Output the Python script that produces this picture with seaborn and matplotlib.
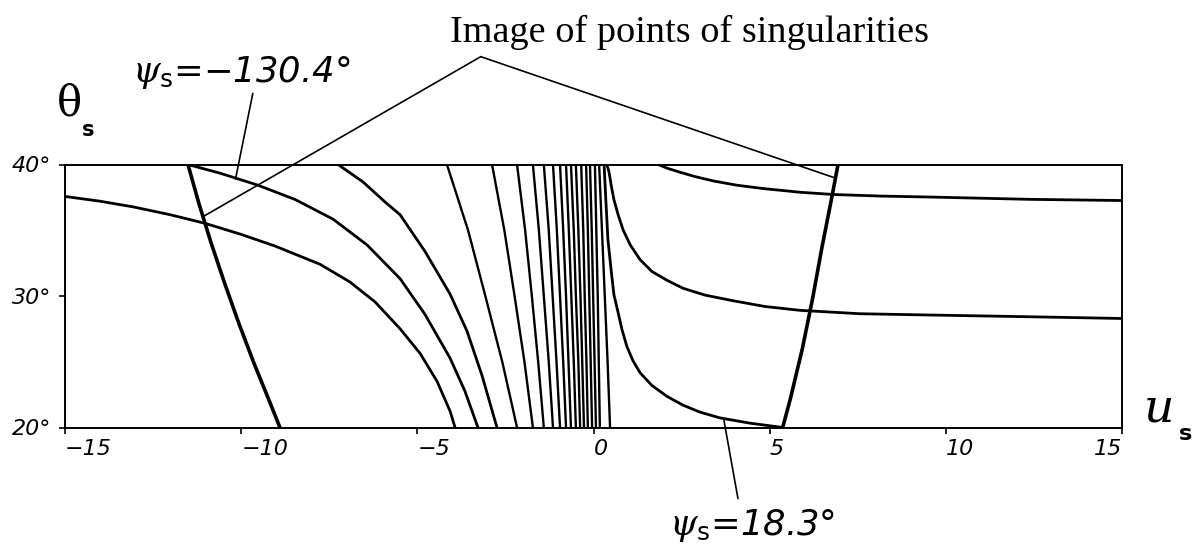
import matplotlib
matplotlib.use("Agg")
import matplotlib.pyplot as plt
import numpy as np
import pandas as pd
import seaborn as sns

# ---------------------------------------------------------------
# Streamlines psi_s = const in the (u_s, theta_s) plane, theta in degrees
# ---------------------------------------------------------------
# outer arc entering through the left edge
ARC_B_U = [-15.0, -14.01, -13.07, -12.03, -11.03, -10.03, -9.04, -7.76, -6.91,
           -6.20, -5.49, -4.92, -4.44, -4.07, -3.93]
ARC_B_TH = [37.57, 37.21, 36.78, 36.19, 35.53, 34.71, 33.80, 32.41, 31.06,
            29.55, 27.51, 25.63, 23.51, 21.24, 20.0]

# arc psi_s = -130.4 deg, leaving the upper-left corner of the domain
ARC_A_U = [-11.51, -10.60, -9.55, -8.47, -7.39, -6.43, -5.49, -4.78, -4.07, -3.65, -3.28]
ARC_A_TH = [40.0, 39.34, 38.45, 37.34, 35.84, 33.89, 31.32, 28.59, 25.27, 22.77, 20.0]

# next arc from the top edge
ARC_C_U = [-7.25, -6.54, -5.92, -5.49, -4.78, -4.07, -3.59, -3.16, -2.74]
ARC_C_TH = [40.0, 38.67, 37.16, 36.18, 33.38, 30.14, 27.33, 23.92, 20.0]

# fan of nearly vertical streamlines around u_s = 0 (u_s read at theta = 40, 35, 30, 25, 20)
FAN_TH = [40, 35, 30, 25, 20]
FAN_U40 = [-4.16, -2.88, -2.17, -1.72, -1.41, -1.15, -0.95, -0.78, -0.64, -0.50, -0.35, -0.21, -0.10, 0.04, 0.16]
FAN_U35 = [-3.56, -2.53, -1.94, -1.55, -1.27, -1.04, -0.86, -0.70, -0.56, -0.43, -0.29, -0.16, -0.05, 0.08, 0.24]
FAN_U30 = [-3.07, -2.24, -1.75, -1.41, -1.16, -0.95, -0.78, -0.63, -0.50, -0.37, -0.25, -0.12, -0.01, 0.12, 0.32]
FAN_U25 = [-2.59, -1.96, -1.57, -1.27, -1.05, -0.86, -0.71, -0.56, -0.43, -0.32, -0.20, -0.08, 0.03, 0.15, 0.40]
FAN_U20 = [-2.17, -1.72, -1.41, -1.15, -0.95, -0.78, -0.64, -0.50, -0.38, -0.27, -0.16, -0.04, 0.07, 0.18, 0.47]

# right family: streamlines turning towards +u_s
HYP_D_U = [1.83, 2.11, 2.46, 2.88, 3.40, 4.08, 4.82, 5.86, 6.80, 8.13, 9.64, 12.39, 15.0]
HYP_D_TH = [40.0, 39.70, 39.41, 39.08, 38.75, 38.42, 38.17, 37.89, 37.72, 37.60, 37.52, 37.35, 37.26]

HYP_E_U = [0.38, 0.44, 0.50, 0.58, 0.70, 0.84, 1.04, 1.32, 1.66, 2.09, 2.54, 3.16,
           3.96, 4.87, 5.86, 7.57, 9.64, 12.4, 15.0]
HYP_E_TH = [40.0, 39.44, 38.45, 37.32, 36.17, 35.03, 33.90, 32.77, 31.86, 31.19, 30.59, 30.07,
            29.64, 29.20, 28.91, 28.65, 28.55, 28.42, 28.29]

# psi_s = 18.3 deg
HYP_F_U = [0.30, 0.35, 0.41, 0.50, 0.58, 0.70, 0.81, 0.95, 1.12, 1.32, 1.66, 2.09,
           2.54, 3.02, 3.59, 4.44, 5.37]
HYP_F_TH = [40.0, 37.31, 34.27, 31.98, 30.09, 28.72, 27.43, 26.14, 25.08, 24.17, 23.19, 22.36,
            21.70, 21.17, 20.73, 20.33, 20.0]

# images of the singular points (domain boundaries)
BND_L_U = [-11.51, -11.20, -10.85, -10.47, -10.07, -9.64, -9.18, -8.90]
BND_L_TH = [40.0, 37.04, 34.01, 30.98, 27.95, 24.91, 21.88, 20.0]

BND_R_U = [6.94, 6.76, 6.48, 6.22, 5.93, 5.59, 5.37]
BND_R_TH = [40.0, 37.45, 33.64, 29.83, 26.02, 22.21, 20.0]

X_TICKS = [-15, -10, -5, 0, 5, 10, 15]
X_LABELS = ["\u221215", "\u221210", "\u22125", "0", "5", "10", "15"]
Y_TICKS = [20, 30, 40]
Y_LABELS = ["20\u00b0", "30\u00b0", "40\u00b0"]

# ---------------------------------------------------------------
# assemble long-form tables
# ---------------------------------------------------------------
def frame(name, us, ths):
    return pd.DataFrame({"u": us, "theta": ths, "line": name})

arcs = pd.concat([
    frame("B", ARC_B_U, ARC_B_TH),
    frame("A", ARC_A_U, ARC_A_TH),
    frame("C", ARC_C_U, ARC_C_TH),
    frame("D", HYP_D_U, HYP_D_TH),
    frame("E", HYP_E_U, HYP_E_TH),
    frame("F", HYP_F_U, HYP_F_TH),
], ignore_index=True)

fan_cols = [FAN_U40, FAN_U35, FAN_U30, FAN_U25, FAN_U20]
fan = pd.concat([
    frame(f"fan{i}", [col[i] for col in fan_cols], FAN_TH)
    for i in range(len(FAN_U40))
], ignore_index=True)

bounds = pd.concat([
    frame("L", BND_L_U, BND_L_TH),
    frame("R", BND_R_U, BND_R_TH),
], ignore_index=True)

# ---------------------------------------------------------------
# figure
# ---------------------------------------------------------------
sns.set_theme(style="ticks")
plt.rcParams["font.family"] = ["DejaVu Sans"]
plt.rcParams["text.color"] = "black"
plt.rcParams["xtick.color"] = "black"
plt.rcParams["ytick.color"] = "black"
plt.rcParams["xtick.labelcolor"] = "black"
plt.rcParams["ytick.labelcolor"] = "black"
plt.rcParams["mathtext.fontset"] = "dejavuserif"
plt.rcParams["lines.solid_capstyle"] = "butt"

W, H = 1198, 555
fig = plt.figure(figsize=(W / 100, H / 100), dpi=100)
fig.patch.set_facecolor("white")

def fx(px):
    return px / W

def fy(py):
    return 1 - py / H

ax = fig.add_axes([fx(65), fy(427.5), (1122 - 65) / W, (427.5 - 164.5) / H])
ax.set_facecolor("white")

common = dict(x="u", y="theta", units="line", estimator=None, sort=False,
              color="black", legend=False, ax=ax)
sns.lineplot(data=arcs, linewidth=2.0, **common)
sns.lineplot(data=fan, linewidth=1.7, **common)
sns.lineplot(data=bounds, linewidth=2.6, **common)

ax.set_xlim(-15, 15)
ax.set_ylim(20, 40)
ax.set_xlabel("")
ax.set_ylabel("")
for sp in ax.spines.values():
    sp.set_visible(True)
    sp.set_linewidth(1.4)
    sp.set_color("black")

ax.set_xticks(X_TICKS)
ax.set_xticklabels(X_LABELS, fontsize=16, style="italic", color="black")
ax.set_yticks(Y_TICKS)
ax.set_yticklabels(Y_LABELS, fontsize=16, style="italic", color="black")
ax.tick_params(axis="x", direction="out", length=4, width=1.2, pad=4, colors="black")
ax.tick_params(axis="y", direction="out", length=4, width=1.2, pad=6, colors="black")
for lab in ax.get_xticklabels():
    lab.set_horizontalalignment("left")
ax.get_xticklabels()[-1].set_horizontalalignment("right")

# axis symbols
fig.text(fx(57), fy(115), "\u03b8", family="DejaVu Serif", fontsize=30, ha="left", va="baseline")
fig.text(fx(82), fy(136), "s", fontsize=15, weight="bold", ha="left", va="baseline")
fig.text(fx(1144), fy(422), "u", family="DejaVu Serif", style="italic", fontsize=34,
         ha="left", va="baseline")
fig.text(fx(1179), fy(440), "s", fontsize=16, weight="bold", ha="left", va="baseline")

# psi labels
fig.text(fx(132), fy(82), "$\\psi_\\mathsf{s}$=\u2212130.4\u00b0", fontsize=25.5, style="italic",
         ha="left", va="baseline")
fig.text(fx(669), fy(535), "$\\psi_\\mathsf{s}$=18.3\u00b0", fontsize=25.5, style="italic",
         ha="left", va="baseline")

fig.text(fx(450), fy(42), "Image of points of singularities", family="Liberation Serif",
         fontsize=27.5, ha="left", va="baseline")

# leader lines
lead = dict(arrowprops=dict(arrowstyle="-", color="black", lw=1.2,
                            shrinkA=0, shrinkB=0),
            annotation_clip=False)
ax.annotate("", xy=(-11.04, 36.1), xytext=(-3.20, 48.2), **lead)
ax.annotate("", xy=(6.83, 39.0), xytext=(-3.20, 48.2), **lead)
ax.annotate("", xy=(-10.16, 38.9), xytext=(-9.67, 45.4), **lead)
ax.annotate("", xy=(3.70, 20.58), xytext=(4.10, 14.6), **lead)

fig.savefig("out.png", dpi=100, facecolor="white")
